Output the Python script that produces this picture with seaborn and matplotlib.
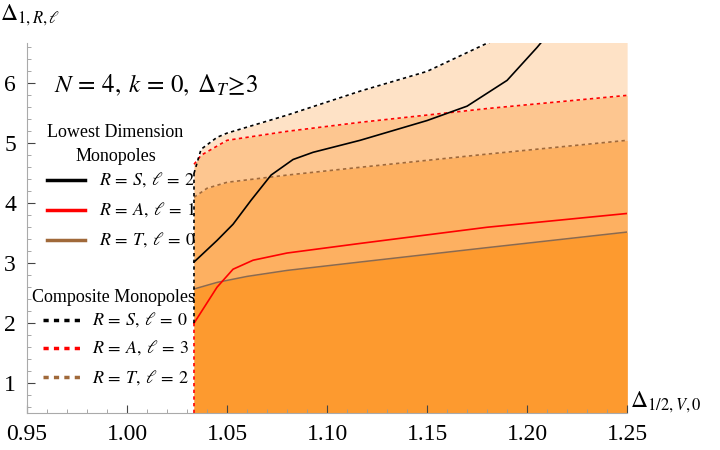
import numpy as np
import pandas as pd
import matplotlib
matplotlib.use("Agg")
import matplotlib.pyplot as plt
import seaborn as sns
from matplotlib.lines import Line2D

plt.rcParams["font.family"] = "Liberation Serif"
plt.rcParams["mathtext.fontset"] = "stix"

x_edge = 1.0335
# composite (dashed) boundaries
sd_x = [1.0335, 1.037, 1.045, 1.05, 1.08, 1.1165, 1.15, 1.18, 1.25]
sd_y = [4.5, 4.9, 5.1, 5.17, 5.47, 5.87, 6.2, 6.67, 7.5]
ad_x = [1.0335, 1.037, 1.05, 1.08, 1.1165, 1.18, 1.25]
ad_y = [4.65, 4.8, 5.05, 5.2, 5.35, 5.58, 5.8]
td_x = [1.0335, 1.04, 1.05, 1.08, 1.1165, 1.18, 1.25]
td_y = [4.1, 4.25, 4.35, 4.47, 4.6, 4.82, 5.05]
# lowest dimension (solid)
s_x = [1.0335, 1.045, 1.053, 1.062, 1.072, 1.083, 1.093, 1.1165, 1.15, 1.17, 1.19, 1.205, 1.215]
s_y = [3.02, 3.38, 3.65, 4.05, 4.47, 4.73, 4.85, 5.05, 5.38, 5.62, 6.05, 6.6, 7.0]
a_x = [1.0335, 1.045, 1.053, 1.063, 1.08, 1.1165, 1.18, 1.25]
a_y = [2.0, 2.6, 2.9, 3.05, 3.17, 3.33, 3.6, 3.83]
t_x = [1.0335, 1.045, 1.06, 1.08, 1.1165, 1.18, 1.25]
t_y = [2.57, 2.68, 2.78, 2.88, 3.02, 3.26, 3.52]

fig = plt.figure(figsize=(7.2, 4.5), dpi=100)
ax = fig.add_axes([0.0375, 0.082, 0.8335, 0.822])

grid = np.linspace(x_edge, 1.25, 400)
fills = [(sd_x, sd_y, "#fee2c6"), (ad_x, ad_y, "#fdc690"),
         (td_x, td_y, "#fdb061"), (t_x, t_y, "#fd9a2f")]
for xs, ys, c in fills:
    ax.fill_between(grid, 0, np.interp(grid, xs, ys), color=c, lw=0)

def line(xs, ys, color, ls, lw):
    df = pd.DataFrame({"x": xs, "y": ys})
    sns.lineplot(data=df, x="x", y="y", ax=ax, color=color, linestyle=ls,
                 lw=lw, sort=False, estimator=None)

brown = "#a0693a"
line(td_x, td_y, brown, (0, (2, 2)), 1.2)
line(ad_x, ad_y, "red", (0, (2, 2)), 1.2)
line(sd_x, sd_y, "black", (0, (2, 2)), 1.2)
line(t_x, t_y, "#8a6a50", "-", 1.1)
line(a_x, a_y, "red", "-", 1.2)
line(s_x, s_y, "black", "-", 1.2)
ax.plot([x_edge, x_edge], [0.5, 2.0], color="red", ls=(0, (2, 2)), lw=1.2)
ax.plot([x_edge, x_edge], [2.0, 4.5], color="black", ls=(0, (2, 2)), lw=1.2)

ax.set_xlim(0.95, 1.25)
ax.set_ylim(0.5, 6.67)
ax.set_xticks([0.95, 1.0, 1.05, 1.1, 1.15, 1.2, 1.25])
ax.set_yticks([1, 2, 3, 4, 5, 6])
ax.set_xticks(np.arange(0.95, 1.2501, 0.01), minor=True)
ax.set_yticks(np.arange(0.6, 6.67, 0.2), minor=True)
ax.tick_params(labelsize=17, colors="#444444", direction="in", length=6, width=0.8)
ax.tick_params(which="minor", direction="in", length=3, width=0.6, color="#999999")
ax.tick_params(axis="x", pad=8)
ax.tick_params(axis="y", pad=8)
for sp in ["top", "right"]:
    ax.spines[sp].set_visible(False)
for sp in ["left", "bottom"]:
    ax.spines[sp].set_color("#aaaaaa")
ax.set_xlabel("")
ax.set_ylabel("")
ax.set_xticklabels(["0.95", "1.00", "1.05", "1.10", "1.15", "1.20", "1.25"], color="black")
ax.set_yticklabels(["1", "2", "3", "4", "5", "6"], color="black")

fig.text(0.0, 0.965, r"$\Delta_{1,R,\ell}$", fontsize=17, va="center")
fig.text(0.875, 0.105, r"$\Delta_{1/2,V,0}$", fontsize=17, va="center")
fig.text(0.075, 0.81, r"$N\,=\,4,\;k\,=\,0,\;\Delta_T\!\geq\!3$", fontsize=18, va="center")

fig.text(0.065, 0.705, "Lowest Dimension", fontsize=13, va="center")
fig.text(0.105, 0.652, "Monopoles", fontsize=13, va="center")
fig.text(0.045, 0.338, "Composite Monopoles", fontsize=13, va="center")
entries = [(0.6, "black", "-", r"$R\,=\,S,\;\ell\,=\,2$", 0.065, 0.138),
           (0.534, "red", "-", r"$R\,=\,A,\;\ell\,=\,1$", 0.065, 0.138),
           (0.467, brown, "-", r"$R\,=\,T,\;\ell\,=\,0$", 0.065, 0.138),
           (0.29, "black", (0, (1.5, 1.5)), r"$R\,=\,S,\;\ell\,=\,0$", 0.06, 0.128),
           (0.227, "red", (0, (1.5, 1.5)), r"$R\,=\,A,\;\ell\,=\,3$", 0.06, 0.128),
           (0.162, brown, (0, (1.5, 1.5)), r"$R\,=\,T,\;\ell\,=\,2$", 0.06, 0.128)]
for y, c, ls, lab, x0, xt in entries:
    fig.add_artist(Line2D([x0, x0 + 0.053], [y, y], color=c, ls=ls, lw=2.5))
    fig.text(xt, y, lab, fontsize=13, va="center")

fig.savefig("out.png", dpi=100)
